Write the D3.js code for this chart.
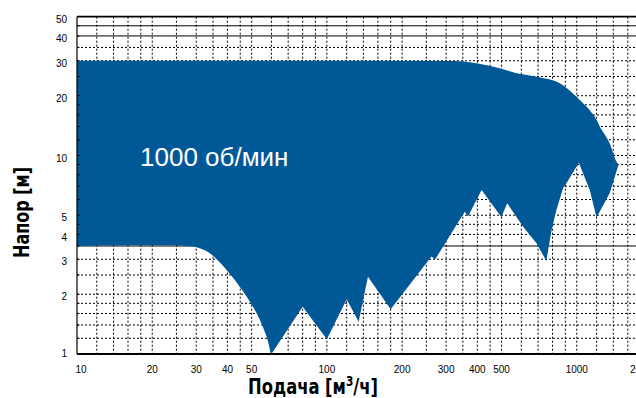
<!DOCTYPE html>
<html>
<head>
<meta charset="utf-8">
<script src="https://cdn.jsdelivr.net/npm/d3@7"></script>
<style>
  html, body { margin: 0; padding: 0; background: #fff; overflow: hidden; }
  svg { display: block; }
</style>
</head>
<body>
<svg id="chart" width="636" height="398"></svg>
<script>
// Operating field of the pump at 1000 rpm, flow Q [m3/h] vs head H [m]
// Upper boundary (maximum head), left to right
const upperFlow = [10, 325, 397, 492, 565, 690, 855, 1030, 1127, 1200, 1236, 1355, 1442, 1470];
const upperHead = [30, 29.9, 29.1, 27.5, 26.1, 24.9, 23.1, 19.0, 16.9, 15.1, 14.0, 11.5, 9.3, 9.0];

// Lower boundary, smooth part at small flows (left to right)
const lowerArcFlow = [10, 27.5, 31.0, 34.0, 39.7, 46.3, 52.4, 57.4, 59.7];
const lowerArcHead = [3.5, 3.5, 3.41, 3.22, 2.65, 2.06, 1.60, 1.22, 0.99];

// Lower boundary, saw-tooth part (left to right)
const lowerFlow = [59.7, 80, 100, 120, 134, 146, 180,
                   262, 271, 356, 367, 416, 499, 527, 610, 690, 756, 768, 793, 829, 881, 909,
                   1019, 1127, 1200, 1355, 1470];
const lowerHead = [0.99, 1.73, 1.186, 1.886, 1.455, 2.45, 1.68,
                   3.10, 2.99, 5.21, 4.93, 6.7, 4.9, 5.74, 4.38, 3.61, 2.94, 3.34, 4.21, 5.31, 6.84, 7.24,
                   9.2, 6.7, 4.87, 6.47, 9.0];

const speedLabel = "1000 об/мин";

// Axis ticks
const xTickLabels = [10, 20, 30, 40, 50, 100, 200, 300, 400, 500, 1000, 2000];
const yTickLabels = [1, 2, 3, 4, 5, 10, 20, 30, 40, 50];
const gridSteps = [1.2, 1.4, 1.6, 1.8, 2, 2.5, 3, 3.5, 4, 4.5, 5, 6, 7, 8, 9, 10];
const xDecades = [10, 100, 1000];
const yDecades = [1, 10];
const solidHeadLines = [3.5, 40, 45];

const svg = d3.select("#chart");
const plotLeft = 77, plotRight = 652, plotTop = 16.7, plotBottom = 354;

const x = d3.scaleLog().domain([10, 2000]).range([plotLeft, plotRight]);
const y = d3.scaleLog().domain([1, 50]).range([plotBottom, plotTop]);

// grid values
const xGrid = [];
xDecades.forEach(d => gridSteps.forEach(s => { const v = +(d * s).toPrecision(4); if (v > 10 && v < 2000) xGrid.push(v); }));
const yGrid = [];
yDecades.forEach(d => gridSteps.forEach(s => { const v = +(d * s).toPrecision(4); if (v > 1 && v < 50) yGrid.push(v); }));

const grid = svg.append("g");
grid.selectAll("line.v").data(xGrid).join("line")
  .attr("x1", d => x(d)).attr("x2", d => x(d))
  .attr("y1", plotTop).attr("y2", plotBottom)
  .attr("stroke", "#000").attr("stroke-width", 1)
  .attr("stroke-dasharray", "2,2");
grid.selectAll("line.h").data(yGrid).join("line")
  .attr("x1", plotLeft).attr("x2", plotRight)
  .attr("y1", d => y(d)).attr("y2", d => y(d))
  .attr("stroke", "#000").attr("stroke-width", 1)
  .attr("stroke-dasharray", d => solidHeadLines.includes(d) ? null : "2,2");

// operating field
svg.append("clipPath").attr("id", "plotClip")
  .append("rect").attr("x", plotLeft).attr("y", plotTop)
  .attr("width", plotRight - plotLeft).attr("height", plotBottom - plotTop + 2);

const upperPts = upperFlow.map((q, i) => [x(q), y(upperHead[i])]);
const sawPts = lowerFlow.map((q, i) => [x(q), y(lowerHead[i])]).reverse();
const arcPts = lowerArcFlow.map((q, i) => [x(q), y(lowerArcHead[i])]).reverse();
const upperPath = d3.line().curve(d3.curveMonotoneX)(upperPts);
const sawPath = d3.line().curve(d3.curveLinear)(sawPts);
const arcPath = d3.line().curve(d3.curveCatmullRom.alpha(0.5))(arcPts);
svg.append("path")
  .attr("d", upperPath + sawPath.replace(/^M/, "L") + arcPath.replace(/^M/, "L") + "Z")
  .attr("fill", "#005897")
  .attr("clip-path", "url(#plotClip)");

// frame
svg.append("line").attr("x1", plotLeft).attr("x2", plotRight).attr("y1", plotTop).attr("y2", plotTop)
  .attr("stroke", "#000").attr("stroke-width", 1.8);
svg.append("line").attr("x1", plotLeft).attr("x2", plotRight).attr("y1", plotBottom).attr("y2", plotBottom)
  .attr("stroke", "#000").attr("stroke-width", 1.8);
svg.append("line").attr("x1", plotLeft).attr("x2", plotLeft).attr("y1", plotTop).attr("y2", plotBottom)
  .attr("stroke", "#000").attr("stroke-width", 1.2);

// small inner ticks on the head axis
svg.append("g").selectAll("line").data(yGrid).join("line")
  .attr("x1", plotLeft).attr("x2", plotLeft + 2.5)
  .attr("y1", d => y(d)).attr("y2", d => y(d))
  .attr("stroke", "#000").attr("stroke-width", 1);

// tick labels
const tickFont = "'Liberation Sans', Arial, sans-serif";
svg.append("g").selectAll("text").data(xTickLabels).join("text")
  .attr("x", d => Math.max(81, Math.min(641, x(d))))
  .attr("y", 373)
  .attr("text-anchor", "middle")
  .attr("font-family", tickFont).attr("font-size", 10).attr("fill", "#000")
  .text(d => d);
svg.append("g").selectAll("text").data(yTickLabels).join("text")
  .attr("x", 67)
  .attr("y", d => Math.min(353, y(d) + 2.5) + 3.6)
  .attr("text-anchor", "end")
  .attr("font-family", tickFont).attr("font-size", 10).attr("fill", "#000")
  .text(d => d);

// axis titles (condensed bold, squeezed horizontally to the wanted width)
const titleFont = "'Liberation Sans Narrow', 'DejaVu Sans Condensed', 'Arial Narrow', sans-serif";
function fitTitle(sel, cx, cy, width, angle) {
  const len = sel.node().getComputedTextLength();
  const k = Math.min(1, width / len);
  sel.attr("transform", `translate(${cx},${cy}) rotate(${angle}) scale(${k},1)`);
}
const xTitle = svg.append("text")
  .attr("text-anchor", "middle")
  .attr("font-family", titleFont).attr("font-weight", "bold").attr("font-size", 21.5).attr("fill", "#000");
xTitle.append("tspan").text("Подача [м");
xTitle.append("tspan").attr("dy", -8).attr("font-size", 14).text("3");
xTitle.append("tspan").attr("dy", 8).text("/ч]");
fitTitle(xTitle, 313, 394, 130, 0);

const yTitle = svg.append("text")
  .attr("text-anchor", "middle")
  .attr("font-family", titleFont).attr("font-weight", "bold").attr("font-size", 21.5).attr("fill", "#000")
  .text("Напор [м]");
fitTitle(yTitle, 29, 212.5, 91, -90);

// speed annotation
svg.append("text")
  .attr("x", 140).attr("y", 166)
  .attr("font-family", "'Liberation Sans', Arial, sans-serif").attr("font-size", 26).attr("fill", "#fff")
  .text(speedLabel);
</script>
</body>
</html>
